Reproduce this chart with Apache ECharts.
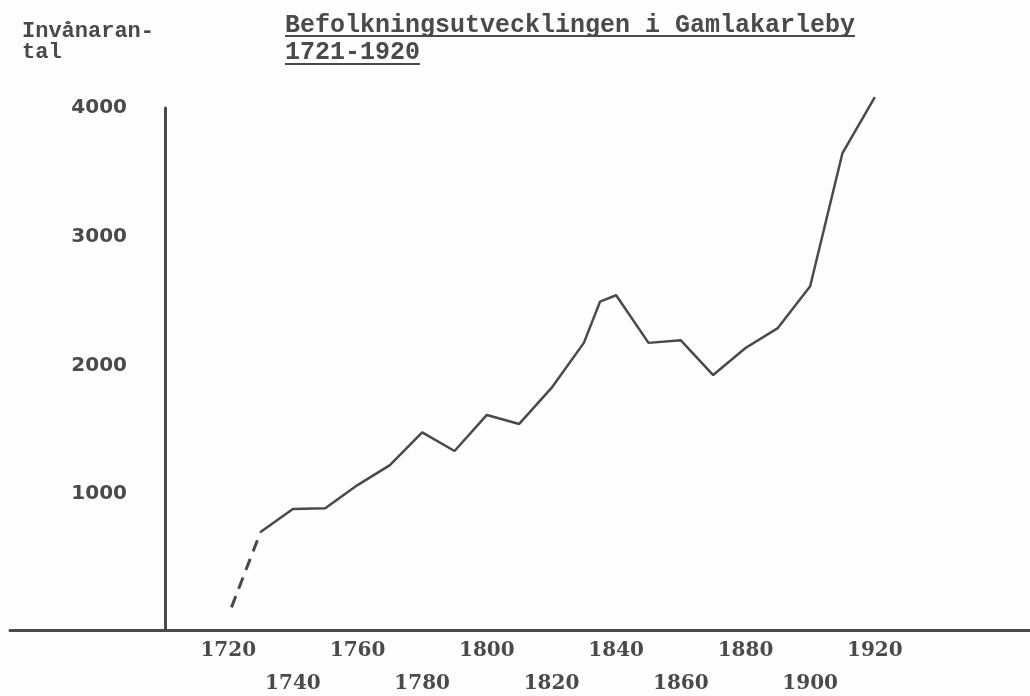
<!DOCTYPE html>
<html>
<head>
<meta charset="utf-8">
<script src="https://cdn.jsdelivr.net/npm/echarts@6/dist/echarts.min.js"></script>
<style>
  html, body { margin: 0; padding: 0; background: #fdfdfd; }
  #chart { width: 1030px; height: 696px; }
</style>
</head>
<body>
<div id="chart"></div>
<script>
// befolkning i Gamlakarleby
const years = [1730, 1740, 1750, 1760, 1770, 1780, 1790, 1800, 1810, 1820, 1830, 1835, 1840, 1850, 1860, 1870, 1880, 1890, 1900, 1910, 1920]
const population = [705, 885, 890, 1070, 1225, 1480, 1335, 1615, 1545, 1825, 2175, 2495, 2545, 2175, 2195, 1925, 2135, 2290, 2615, 3650, 4085]
// osäker början 1721-1730 (streckad)
const earlyYears = [1721, 1730]
const earlyPopulation = [120, 705]
const yearTicks = [1720, 1740, 1760, 1780, 1800, 1820, 1840, 1860, 1880, 1900, 1920]
const popTicks = [1000, 2000, 3000, 4000]

const ink = '#4a4a4a'
const myChart = echarts.init(document.getElementById('chart'))

const option = {
  animation: false,
  backgroundColor: '#fdfdfd',
  title: [
    {
      text: 'Befolkningsutvecklingen i Gamlakarleby\n1721-1920',
      left: 285,
      top: 12,
      padding: 0,
      textStyle: {
        fontFamily: 'Liberation Mono',
        fontWeight: 'bold',
        fontSize: 25,
        lineHeight: 27,
        color: ink
      }
    },
    {
      text: 'Invånaran-\ntal',
      left: 22,
      top: 21,
      padding: 0,
      textStyle: {
        fontFamily: 'Liberation Mono',
        fontWeight: 'bold',
        fontSize: 22,
        lineHeight: 21,
        color: ink
      }
    }
  ],
  // understrykning av rubriken
  graphic: [
    { type: 'line', shape: { x1: 285, y1: 36, x2: 855, y2: 36 }, style: { stroke: ink, lineWidth: 2 } },
    { type: 'line', shape: { x1: 285, y1: 64, x2: 420, y2: 64 }, style: { stroke: ink, lineWidth: 2 } }
  ],
  grid: {
    left: 10,
    right: 0,
    top: 108,
    bottom: 66,
    containLabel: false,
    outerBoundsMode: 'none'
  },
  xAxis: {
    type: 'value',
    min: 1652.5,
    max: 1968,
    axisLine: {
      show: true,
      onZero: false,
      lineStyle: { color: ink, width: 3 }
    },
    axisTick: { show: false },
    splitLine: { show: false },
    axisLabel: {
      customValues: yearTicks,
      margin: 4,
      // varannan etikett på andra raden
      formatter: (v) => ((v - 1720) / 20) % 2 === 0 ? String(v) : '\n' + v,
      fontFamily: 'DejaVu Serif',
      fontWeight: 'bold',
      fontSize: 20,
      lineHeight: 33,
      color: ink
    }
  },
  yAxis: {
    type: 'value',
    min: -56,
    max: 4000,
    offset: -155,
    axisLine: {
      show: true,
      onZero: false,
      lineStyle: { color: ink, width: 3 }
    },
    axisTick: { show: false },
    splitLine: { show: false },
    axisLabel: {
      customValues: popTicks,
      margin: 38,
      formatter: (v) => String(v),
      fontFamily: 'DejaVu Sans',
      fontWeight: 'bold',
      fontSize: 20,
      color: ink
    }
  },
  series: [
    {
      type: 'line',
      data: earlyYears.map((y, i) => [y, earlyPopulation[i]]),
      symbol: 'none',
      clip: false,
      lineStyle: { color: ink, width: 3, type: [12, 8] }
    },
    {
      type: 'line',
      data: years.map((y, i) => [y, population[i]]),
      symbol: 'none',
      clip: false,
      lineStyle: { color: ink, width: 2.5 }
    }
  ]
}
myChart.setOption(option)
</script>
</body>
</html>
